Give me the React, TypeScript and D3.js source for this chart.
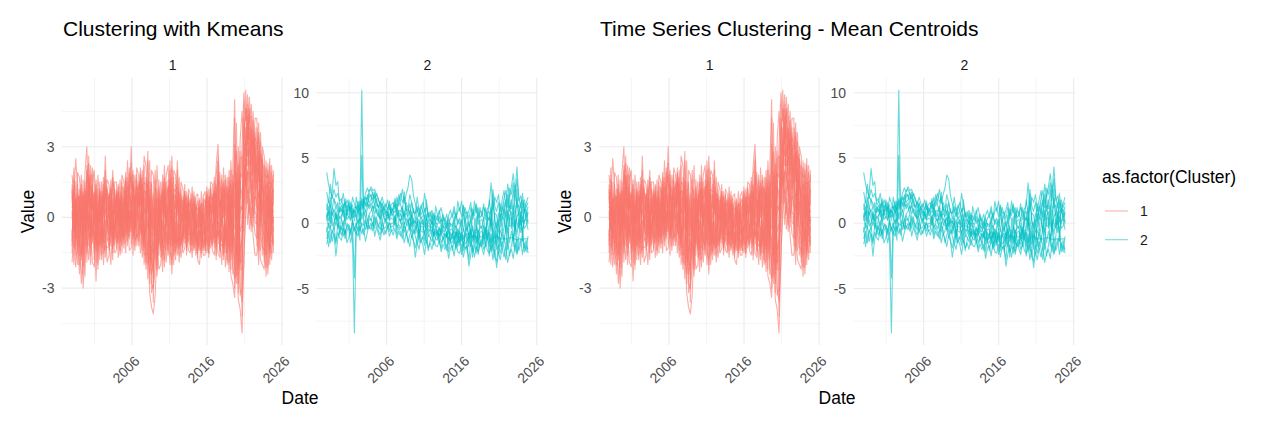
import React from "react";
import * as d3 from "d3";

// ---------------- DATA ----------------
// Dates: quarterly observations between these two dates (fractional years)
const dateStart = 1998.0;
const dateEnd = 2024.85;

// Cluster 1 series (quarterly values)
const c1A = [
  1.8, 0.9, 2.5, 1.2, 0.3, 1.8, -0.5, 1.9, 3.0, 0.6, 2.2, 0.4, 0.5, 1.6, -0.4, 1.5,
  -0.2, 1.7, 0.5, 1.6, 1.4, 0.2, 2.0, 0.6, -0.3, 1.4, 0.2, 1.8, 1.5, 0.4, 2.4, 0.7,
  3.0, 0.5, 1.8, 0.9, 0.6, 2.1, 0.3, 2.6, 2.2, 0.4, 2.4, -0.8, 0.6, 2.0, -0.4, 1.6,
  -0.3, 1.8, 0.4, 1.8, 2.2, 0.3, 2.6, 0.6, 0.4, 2.4, 0.2, 1.5, 1.2, -0.2, 1.1, 0.1,
  -0.3, 1.3, 0.0, 0.9, 1.0, -0.4, 1.1, -0.3, -0.2, 1.3, 0.0, 1.5, 1.4, -0.1, 2.2, 3.1,
  1.0, 1.6, 0.3, 1.8, 0.2, 2.0, -0.5, 2.0, 5.0, 0.6, 3.0, 0.8, 3.0, 5.3, 4.1, 5.2,
  4.0, 4.8, 2.5, 4.2, 4.2, 2.1, 3.6, 1.2, 0.8, 2.4, 0.1, 2.5, -0.2, 2.0,
];
const c1B = [
  -1.9, -0.8, -2.1, -1.0, -2.4, -1.1, -3.0, -1.5, -0.7, -1.8, -0.4, -1.9, -2.1, -0.6, -2.0, -0.8,
  -1.8, -0.5, -1.7, -0.9, -0.9, -2.0, -0.4, -1.5, -1.4, -0.6, -1.6, -0.4, -0.5, -1.5, 0.1, -1.4,
  -1.3, -0.4, -1.4, -0.2, -1.2, -0.3, -1.7, -0.6, -2.2, -1.0, -3.2, -3.8, -4.1, -3.3, -1.2, -2.2,
  -2.0, -0.8, -2.1, -0.6, -1.6, -0.7, -2.4, -0.5, -1.8, -0.5, -1.9, -0.8, -1.5, -1.3, -0.5, -1.4,
  -1.5, -0.6, -1.4, -0.8, -1.8, -2.0, -0.8, -1.6, -1.6, -0.7, -1.7, -0.4, -1.4, -1.6, -0.6, -1.5,
  -1.7, -0.6, -1.8, -0.5, -2.0, -0.8, -2.5, -2.8, -3.4, -1.2, -3.5, -3.9, -4.9, -1.5, 0.1, 1.2,
  -0.5, 0.4, -0.8, -1.6, -1.6, -0.6, -1.8, -2.0, -2.2, -0.9, -2.4, -0.7, -1.8, -0.4,
];
const c1C = [
  0.6, 2.1, -0.3, 1.9, 1.7, 0.4, 0.9, -0.6, 1.5, 2.3, 0.3, 1.6, 2.0, 0.3, 1.2, -0.2,
  1.5, 0.2, 2.6, 0.3, 0.3, 1.6, -1.0, 1.5, 1.5, 0.1, 1.1, -0.8, 0.2, 1.9, -0.6, 2.1,
  1.2, 2.0, 0.3, 2.1, 1.8, 0.5, 2.0, 0.2, 0.5, 2.8, -0.6, 2.0, 1.8, -0.2, 2.2, 0.1,
  1.5, 0.1, 2.2, -0.2, 0.4, 2.4, -0.3, 2.0, 1.8, 0.1, 1.7, -0.1, 0.3, 1.4, -1.6, 1.2,
  1.0, -0.1, 1.1, -0.4, -0.2, 0.8, -1.7, 0.9, 1.1, -0.2, 1.2, 0.3, 0.2, 1.7, -1.8, 0.8,
  1.9, -0.2, 2.1, 0.1, 1.7, 0.4, 2.4, 0.3, 2.2, 2.8, -0.4, 3.3, 4.5, 2.8, 5.4, 2.6,
  5.1, 2.9, 4.5, 1.5, 2.4, 4.0, 0.9, 3.0, 2.6, 0.3, 2.3, 0.6, 2.2, 0.5,
];
const c1D = [
  -0.5, -2.0, 0.8, -0.4, -1.0, -2.8, -1.4, 0.8, -1.9, 0.2, -2.0, -0.3, -0.9, -2.7, 0.4, -1.8,
  0.4, -2.0, -0.6, -1.9, -1.6, -0.3, 0.8, -0.6, 0.2, -1.7, -0.3, 0.9, -1.3, 0.0, 1.3, -0.2,
  0.3, -1.6, 0.9, -1.2, -0.3, -1.5, 0.7, -2.0, -1.0, -2.6, 0.9, -1.7, -2.3, -1.0, -2.5, -0.9,
  -0.9, -2.3, -0.5, -1.9, -0.8, -2.0, 1.1, -2.0, -0.6, -1.6, -0.7, -1.7, -0.8, -0.6, 0.6, -0.7,
  -0.7, -1.7, -0.5, -1.6, -1.1, -0.9, 0.3, -1.1, -0.9, -1.5, -0.8, -1.3, -0.9, -0.5, 0.9, -0.8,
  -0.6, -2.0, -0.4, -2.1, -1.0, -2.3, 0.6, -1.4, -1.8, -2.8, 1.6, -2.2, -2.2, 0.6, 1.9, -0.3,
  0.8, -0.6, 1.1, 0.2, 0.1, -2.0, 1.7, -0.5, -0.8, -2.5, -0.5, -2.0, 0.3, -1.5,
];
const c1E = [
  1.1, 0.2, -1.2, 0.7, 0.9, -0.3, 1.6, -2.5, 0.8, -0.9, 1.4, 2.1, 1.3, -0.2, 1.8, 0.6,
  -1.0, 0.9, 1.3, 0.8, 0.9, -1.2, 1.2, -1.1, 0.9, 0.6, 1.6, -1.5, 0.8, -0.8, 0.5, 1.4,
  1.8, 0.8, -0.7, 1.3, 1.2, 1.3, -0.8, 1.5, 1.4, 0.9, -1.8, 0.6, -0.8, 0.9, 0.5, -1.6,
  0.7, 0.9, 1.1, 0.8, 1.3, 1.0, -1.2, 1.2, 1.1, 1.3, 0.9, 0.6, 0.7, 0.5, -0.3, 0.6,
  0.5, 0.8, -0.9, 0.4, 0.4, 0.2, -0.5, 0.2, 0.5, 0.7, 0.4, 0.9, 0.7, 0.6, -0.3, 1.6,
  0.4, 0.8, 1.2, 0.9, 0.9, 1.1, -1.2, 1.2, 1.5, 1.1, -2.1, 1.9, 1.7, 4.2, 3.0, 4.0,
  3.3, 3.8, 3.0, 3.4, 3.1, 1.5, 2.6, 2.2, 1.6, 1.2, 1.4, 1.5, 1.3, 1.1,
];
const c1F = [
  -1.2, 1.3, 0.4, -2.0, -0.4, 1.2, -0.8, 0.2, 2.0, 1.1, -0.8, 0.9, -0.3, 1.0, -1.1, 1.1,
  0.8, -1.1, -0.1, -0.4, -0.4, 0.7, -1.8, 0.9, -0.8, -1.1, 0.5, 0.3, -0.2, 1.2, -1.2, 0.3,
  -0.6, 1.4, 1.2, 0.0, 0.0, -0.7, 1.4, -0.9, -0.4, -0.3, 1.5, -2.8, -3.0, -2.1, -0.8, 0.7,
  0.2, -1.2, -1.3, 0.3, -0.2, -1.1, 0.5, -0.9, -1.1, -0.9, -1.3, 0.2, -1.1, 0.9, -1.0, -1.0,
  -1.2, -0.3, 0.6, -1.1, -0.6, -1.4, -1.2, -0.6, -0.4, -1.0, -1.2, -0.9, -0.3, -1.1, 1.4, -1.1,
  -1.1, -1.2, -1.0, -1.0, -0.4, -1.4, 1.4, -2.1, -2.6, -0.5, 2.3, -3.0, -3.6, -2.0, 0.8, 1.9,
  1.9, 1.0, 0.3, -0.7, -0.9, 0.6, -0.7, -1.3, -1.3, -1.6, -1.4, -1.1, -1.0, -0.8,
];
const c1G = [
  0.2, -0.6, 1.5, -0.9, 1.2, -1.6, 0.3, 1.1, -0.3, 1.7, 0.7, -1.1, 0.9, -1.4, 0.6, -1.2,
  -0.6, 0.4, 0.9, 1.2, 0.5, -0.8, 0.3, 0.1, 0.6, 1.0, -1.0, 1.3, 1.1, -0.3, 1.7, -0.9,
  0.7, -0.9, 0.1, 0.6, 0.9, 0.8, -0.2, 0.8, 0.8, 1.6, -0.2, 0.9, 0.3, -0.6, 1.2, -0.4,
  1.0, 0.5, 0.0, 1.2, 0.9, 1.6, -0.6, 0.2, 0.6, 0.7, 0.4, 1.0, 0.0, -0.9, 0.8, -0.2,
  0.2, 0.4, -0.2, 0.2, 0.7, -0.1, 0.6, 0.5, 0.8, 0.3, 0.7, 0.1, 0.9, 0.3, 0.2, 0.3,
  0.7, 0.3, 0.6, 1.3, 1.2, 0.0, 0.2, 0.7, 0.4, 1.9, -1.0, 0.2, 0.5, 3.4, 4.6, 3.1,
  4.4, 2.2, 3.7, 2.6, 1.9, 2.8, 0.3, 1.7, 0.4, 0.8, 0.9, 0.2, 0.7, 0.2,
];
const c1H = [
  -0.8, 0.5, -0.7, 0.3, -1.6, 0.8, -2.1, -0.9, 0.4, -0.4, -1.3, 1.3, -1.5, 0.7, -0.7, 0.2,
  1.1, -1.5, -1.2, -1.3, -1.2, 1.0, -0.7, -0.3, -1.1, -0.2, 0.8, -0.6, -0.9, 0.7, -0.4, 1.0,
  -0.2, 0.2, -1.0, -0.7, -0.8, 0.1, -1.2, -0.3, -1.6, -1.5, -2.4, -1.2, -1.5, 0.4, -1.7, 1.1,
  -1.4, -0.4, 0.8, -1.1, -1.2, -0.2, 1.7, -1.4, -0.2, -1.2, -0.3, -1.2, -0.4, 0.2, -0.7, 0.9,
  -0.5, -1.1, -1.0, -0.2, -1.4, -0.6, -0.2, -1.3, -1.2, -0.4, -0.3, -0.7, -1.1, -0.7, -1.2, -0.2,
  -0.3, -0.8, -1.3, -0.3, -1.5, 0.6, -1.8, -0.6, -0.9, -1.9, 0.6, -1.4, -1.0, 1.4, 2.4, 0.6,
  1.2, 1.6, 0.0, 0.9, 0.7, -0.9, 2.0, 0.4, -0.3, -0.2, -1.0, 1.0, -0.6, -1.1,
];
const c1I = [
  1.4, -1.3, 0.1, 1.0, 0.1, -0.7, 1.1, 0.5, -1.2, 0.9, 1.8, -0.6, 0.2, -0.9, 0.0, 0.9,
  0.0, 1.2, 0.2, 0.1, 0.0, -0.5, 1.5, 1.1, 0.0, 0.8, -0.5, 0.6, 0.5, -1.1, 0.9, -0.5,
  0.9, 1.1, 0.6, 1.6, 0.4, 1.6, 0.9, 1.1, 1.1, 0.2, 0.7, -0.3, 1.0, -1.4, 0.0, -1.1,
  0.4, 1.2, -0.8, 0.5, 0.1, 0.7, 0.0, 0.9, 0.9, 0.3, 1.1, -0.5, 0.9, -0.4, 0.3, -0.5,
  0.7, 0.1, 0.3, -1.3, 0.1, 0.5, -1.0, -0.1, 0.2, 0.9, -0.6, 0.6, 0.4, 1.1, 0.6, 2.0,
  0.1, 1.1, 0.0, 0.5, 0.5, -0.5, 0.9, -1.0, 3.1, 0.2, -2.8, 2.5, 2.6, 0.0, 3.6, 4.6,
  2.7, 3.3, 2.0, 2.9, 2.9, 3.4, -0.2, 2.5, 1.9, 1.7, 1.8, -0.4, 1.5, 1.6,
];
const c1J = [
  -0.1, 0.7, -1.6, -1.4, 0.6, 0.0, -0.2, -1.2, 1.1, -1.2, 0.0, 0.5, 1.0, 0.4, -1.5, -0.5,
  -1.3, -0.3, 1.6, -0.7, 1.0, 0.4, -0.2, -0.9, 1.1, -0.9, 0.0, -0.1, 0.0, 0.9, 0.2, 0.6,
  0.0, -0.3, -0.4, 0.4, 1.4, -0.4, 0.2, -1.3, -0.2, 1.2, -1.1, 1.4, -0.5, 1.3, 0.9, 0.3,
  -0.6, -1.6, 1.5, -0.4, 1.6, -1.5, -1.8, -0.1, -1.4, 1.6, -1.0, 0.8, -0.2, 1.0, -1.2, 0.3,
  -0.9, -0.8, -0.7, 0.6, -0.4, -1.2, 0.0, 0.0, -0.7, -1.2, 0.5, -0.2, -0.5, -0.2, -0.8, -0.6,
  -1.4, -0.1, 1.5, -1.5, -0.1, 1.3, -0.3, 1.5, 0.9, -0.2, 1.1, -0.6, -0.3, 2.2, 1.3, 2.0,
  0.2, 0.7, 1.6, -0.2, -0.3, 1.0, 1.2, -0.8, -1.7, 0.5, -0.1, -1.5, 0.0, -0.3,
];
const c1K = [
  1.2, -0.9, 0.8, -1.3, 0.9, -1.5, 1.0, -0.6, 1.6, -0.5, 1.3, -0.8, 1.1, -1.2, 0.7, -0.9,
  0.9, -1.3, 1.1, -0.6, 1.0, -1.1, 0.6, -1.2, 1.2, -0.8, 0.9, -1.0, 1.3, -0.7, 1.5, -0.6,
  1.6, -0.5, 1.2, -0.9, 1.5, -0.6, 1.4, -0.8, 1.1, -1.4, 0.6, -2.0, 0.4, -1.8, 0.6, -1.2,
  0.9, -1.1, 1.0, -1.0, 1.3, -0.9, 1.2, -1.1, 1.0, -1.0, 0.8, -1.2, 0.7, -1.1, 0.6, -1.0,
  0.5, -1.2, 0.6, -1.1, 0.4, -1.3, 0.5, -1.2, 0.7, -1.0, 0.8, -0.9, 1.0, -0.8, 1.3, -0.9,
  1.2, -1.0, 1.1, -1.2, 1.1, -1.2, 1.3, -1.4, 2.0, -1.6, 1.8, -2.0, -0.8, 3.2, 1.4, 4.3,
  1.5, 3.6, 1.2, 3.1, 0.4, 2.7, 0.2, 2.4, -1.1, 1.4, -1.2, 1.3, -0.8, 1.2,
];
const c1L = [
  -1.0, 1.1, -1.4, 0.9, -1.2, 0.7, -1.6, 1.2, -0.6, 1.8, -0.9, 1.4, -1.3, 0.8, -1.0, 1.0,
  -1.1, 0.9, -0.8, 1.1, -1.2, 0.9, -1.3, 0.8, -0.9, 1.0, -1.1, 1.1, -0.8, 1.2, -0.7, 1.4,
  -0.6, 1.5, -0.8, 1.3, -0.5, 1.6, -0.9, 1.2, -1.3, 1.3, -1.9, 0.4, -2.6, 0.7, -1.6, 0.5,
  -1.3, 1.1, -1.0, 0.9, -0.8, 1.4, -1.2, 1.0, -1.1, 1.1, -1.3, 0.7, -1.0, 0.8, -1.2, 0.7,
  -1.1, 0.6, -1.3, 0.5, -1.4, 0.3, -1.1, 0.4, -1.2, 0.6, -1.0, 0.9, -0.9, 1.1, -1.0, 1.5,
  -1.1, 1.0, -1.3, 1.2, -1.3, 1.2, -1.5, 1.0, -2.2, 1.6, -2.4, 1.3, 1.0, -0.6, 3.8, 1.0,
  3.8, 1.1, 3.3, 0.8, 2.6, 0.3, 2.8, 0.1, 1.3, -1.0, 1.5, -1.4, 1.1, -0.6,
];
const c1M = [
  0.4, 1.0, -0.6, -1.1, 0.5, 1.1, -1.3, -0.9, 0.9, 1.4, -0.3, -1.0, 0.6, 1.2, -1.4, -0.7,
  0.3, 1.0, -1.1, -0.5, 0.8, 1.2, -0.9, -0.4, 0.5, 1.1, -0.7, -1.2, 0.7, 1.6, -0.4, -0.8,
  1.0, 1.4, -0.5, -0.3, 0.9, 1.8, -0.4, -1.1, 0.6, 1.5, -1.2, -2.4, -1.9, -0.5, 0.8, 0.2,
  -0.8, 0.7, 1.2, -1.4, -0.5, 1.1, 1.5, -0.7, -0.9, 0.8, 1.0, -1.0, -0.6, 0.6, 0.9, -0.9,
  -1.0, 0.3, 0.7, -0.8, -1.1, 0.2, 0.6, -1.4, -0.8, 0.4, 0.9, -1.1, -0.7, 0.8, 1.1, -0.5,
  -0.9, 0.9, 1.4, -0.8, -1.0, 1.0, 1.6, -1.3, 0.7, -1.4, 2.2, -1.9, -1.8, 2.6, 3.2, 2.2,
  2.9, 1.8, 2.4, 3.6, 1.2, 2.3, -0.4, 1.8, 0.6, -1.4, 1.0, -0.9, 0.8, -0.2,
];
const c1N = [
  0.3, -0.5, 0.6, -0.2, -0.4, 0.4, -0.8, 0.3, 0.6, -0.1, 0.8, 0.0, -0.3, 0.5, -0.6, 0.3,
  0.2, -0.6, 0.4, -0.3, 0.5, -0.4, 0.3, -0.5, -0.2, 0.4, -0.4, 0.5, 0.6, -0.2, 0.7, -0.1,
  0.8, 0.0, 0.5, -0.2, 0.7, -0.1, 0.9, 0.2, 0.3, -0.5, -0.1, -1.0, -1.2, -0.3, -0.9, 0.1,
  0.3, -0.5, 0.5, -0.3, 0.6, -0.2, 0.4, -0.4, 0.2, -0.5, 0.5, -0.3, 0.1, -0.6, 0.3, -0.4,
  -0.2, -0.7, 0.1, -0.6, -0.3, -0.8, 0.2, -0.7, -0.1, -0.6, 0.3, -0.4, 0.4, -0.3, 0.6, 0.0,
  0.3, -0.4, 0.5, -0.5, 0.4, -0.5, 0.6, -0.6, -0.4, 0.8, -0.9, 0.5, 0.3, 1.8, 2.2, 2.9,
  2.2, 2.6, 1.8, 2.3, 1.4, 0.8, 1.6, 0.6, 0.3, -0.5, 0.6, 0.0, 0.4, -0.2,
];
const c1O = [
  -1.5, 1.6, -0.2, 1.4, -2.0, 1.4, -2.4, 1.5, -1.5, 2.6, -1.6, 1.8, -1.8, 1.4, -2.2, 1.2,
  -1.6, 1.4, -1.4, 1.3, -1.4, 1.3, -1.5, 1.2, -1.3, 1.3, -1.4, 1.5, -1.1, 1.7, -1.0, 1.9,
  -1.1, 1.8, -1.2, 1.8, -1.0, 1.9, -1.4, 2.2, -1.9, 2.4, -2.8, 1.5, -3.6, 1.6, -2.2, 1.3,
  -1.7, 1.5, -1.8, 1.5, -1.4, 2.0, -2.0, 1.7, -1.5, 2.0, -1.6, 1.2, -1.3, 1.1, -1.4, 1.0,
  -1.4, 1.0, -1.2, 0.8, -1.7, 0.7, -1.5, 0.8, -1.4, 1.1, -1.5, 1.2, -1.2, 1.5, -1.6, 2.6,
  -1.5, 1.8, -1.6, 1.6, -1.8, 1.7, -2.2, 1.8, -3.0, 4.0, -3.2, 2.8, -4.2, 4.8, 0.6, 4.8,
  0.1, 4.3, -0.4, 3.8, -1.2, 3.6, -1.4, 2.7, -1.9, 2.1, -2.1, 2.2, -1.5, 1.8,
];
const c1P = [
  0.9, 0.1, -0.9, 0.5, -0.7, -1.8, 0.5, -0.4, 2.2, 0.4, -0.6, 1.1, 0.8, -1.9, 0.9, -0.3,
  -0.8, 0.6, 2.0, -1.0, -0.5, 0.6, 1.7, 0.2, 1.0, -0.4, 0.6, -0.5, -0.6, 0.8, -0.1, 1.1,
  2.3, -0.8, 0.4, 1.0, -0.2, 1.0, 1.7, -1.6, 1.7, -2.0, 1.2, -3.2, -2.8, 0.0, -2.0, 0.8,
  0.6, -1.8, 1.7, 0.0, -1.1, 0.6, 2.1, -1.6, 1.4, -1.3, 0.2, -0.6, -0.9, 1.1, -1.3, 0.4,
  0.8, -1.4, 0.9, -0.1, -1.5, 0.4, -1.4, 0.6, -1.4, 1.0, -1.5, 1.3, 0.6, -1.3, 1.8, 2.4,
  -1.4, 1.3, -1.5, 0.7, 1.3, -1.9, 2.0, -2.4, 4.2, -2.5, 0.3, -3.3, -3.0, 1.0, 2.8, 3.6,
  4.6, -0.3, 4.1, 0.5, 3.8, -1.4, 3.2, -1.6, 2.2, -2.1, 2.0, -1.7, 1.9, -1.2,
];

// Cluster 2 series (quarterly values)
const c2S1 = [
  3.9, 3.0, 2.4, 2.0, 1.8, 1.5, 1.2, 0.8, 1.1, 0.5, 0.9, 1.4, 1.0, 1.6, 0.7, 1.2,
  1.3, 0.8, 1.5, 1.1, 1.7, 2.3, 2.7, 2.4, 2.8, 2.5, 2.6, 2.1, 1.8, 1.4, 2.0, 1.5,
  1.2, 1.8, 1.0, 1.4, 1.6, 1.1, 2.0, 1.3, 1.8, 2.6, 1.5, 2.2, 2.7, 3.7, 3.4, 2.1,
  1.5, 0.9, 1.2, 0.6, 1.0, 2.3, 1.4, 0.7, 0.5, 1.0, 0.2, 0.6, 0.2, 0.8, 1.2, 0.4,
  0.3, -0.2, 0.6, 1.0, 0.4, 1.0, 0.2, 1.7, 0.9, 1.7, 0.6, 1.2, 0.5, 1.0, 1.6, 0.3,
  1.7, 0.8, 1.2, 0.4, 0.7, 1.5, 0.3, 1.1, 1.4, 3.1, 1.0, 2.0, 1.6, 2.2, 0.9, 1.8,
  2.5, 1.3, 3.0, 2.0, 2.8, 3.8, 2.4, 4.3, 2.0, 1.2, 2.3, 0.8, 1.5, 2.0,
];
const c2S2 = [
  1.0, 1.8, 1.2, 2.4, 4.2, 2.9, 3.2, 1.4, 1.6, 2.3, 1.2, 1.8, 1.3, 0.9, 2.0, 1.5,
  1.1, 1.7, 0.9, 10.2, 1.0, 1.6, 1.3, 2.0, 2.2, 1.8, 2.4, 1.6, 1.2, 1.7, 0.9, 1.3,
  0.8, 1.1, 1.5, 0.6, 0.7, 1.5, 0.9, 2.2, 1.4, 0.9, 2.4, 1.0, 0.8, 1.5, 0.4, 1.1,
  0.3, 1.0, 0.5, 1.4, 0.9, 0.3, 1.8, 0.5, 0.1, 0.7, -0.2, 1.3, 0.6, 0.0, 0.3, -0.2,
  -0.4, 0.2, -0.6, 0.0, -0.2, 0.5, -0.5, 0.3, 0.0, -0.5, 0.7, -0.3, -0.6, 0.2, -0.9, 0.8,
  0.3, -0.5, 0.9, -0.2, -0.4, 0.4, -0.7, 0.1, 0.5, -0.6, 1.6, 0.2, -0.4, 0.8, 0.1, 1.3,
  0.7, 1.8, 0.2, 1.4, 1.1, 2.6, 0.8, 1.9, 0.6, 1.6, 0.1, 1.1, 0.4, 0.9,
];
const c2S3 = [
  -0.3, -1.8, -1.0, -0.5, -0.9, -2.5, -1.2, -0.6, -0.2, -1.0, -0.5, -1.5, -1.1, -0.4, -1.3, -8.4,
  -0.6, -1.0, -0.2, -0.8, -0.4, -1.4, -0.7, -0.2, -0.5, 0.1, -1.0, -0.3, -0.8, -1.3, -0.4, -0.9,
  -0.6, -0.2, -1.0, -0.5, -0.9, -0.4, -1.2, -0.6, -1.0, -0.5, -1.5, -0.8, -1.2, -1.8, -0.9, -1.4,
  -2.6, -1.5, -2.0, -1.2, -1.6, -2.4, -1.3, -1.9, -1.5, -2.0, -1.2, -1.7, -1.8, -1.3, -2.2, -1.6,
  -2.0, -1.6, -2.7, -1.9, -1.7, -2.5, -1.4, -2.2, -2.3, -1.6, -2.6, -1.8, -1.9, -3.3, -2.4, -1.7,
  -2.6, -1.8, -2.2, -1.5, -1.9, -2.4, -1.4, -2.1, -2.3, -1.6, -2.8, -2.0, -3.4, -2.2, -2.8, -1.9,
  -2.6, -1.8, -3.0, -2.3, -2.0, -2.7, -1.5, -2.3, -1.8, -1.2, -2.4, -1.5, -2.2, -1.0,
];
const c2S4 = [
  0.5, 0.9, 0.0, 1.2, 0.8, 0.3, 1.1, 0.4, 0.6, 1.0, 0.2, 0.8, 0.4, 0.9, 0.1, -4.2,
  0.2, 0.7, 1.2, 0.5, 0.9, 0.4, 1.1, 1.5, 1.2, 0.8, 1.5, 0.9, 0.6, 0.3, 1.0, 0.4,
  0.2, 0.7, 0.3, 0.9, 0.5, 0.1, 0.8, 0.3, 0.2, 0.7, -0.1, 0.4, 0.0, 0.5, -0.3, 0.2,
  -0.4, 0.1, -0.7, -0.2, -0.3, -0.8, 0.0, -0.5, -0.6, -0.2, -0.9, -0.4, -0.7, -1.0, -0.4, -0.8,
  -1.0, -0.7, -1.2, -0.9, -0.8, -1.2, -0.6, -1.0, -1.1, -0.7, -1.3, -0.9, -0.8, -1.3, -0.5, -1.1,
  -0.9, -1.2, -0.6, -1.0, -1.1, -0.7, -1.3, -0.8, -0.7, -1.5, -0.4, -1.2, -1.0, -1.1, -1.2, -1.2,
  -1.2, -1.2, -1.2, -1.1, -1.1, -1.2, -1.2, -1.3, -1.2, -1.2, -1.3, -1.2, -1.2, -1.2,
];
const c2S5 = [
  -1.2, -0.6, -1.5, -0.8, -0.3, -1.4, -0.7, -1.1, -1.3, -0.4, -0.9, 0.0, -0.5, -1.5, -0.8, -0.3,
  -0.9, -0.3, -1.3, 5.2, 0.1, -0.5, 0.3, -0.4, 0.0, -0.6, 0.4, -0.2, -0.3, 0.2, -0.7, 0.0,
  0.4, -0.4, 0.0, -0.3, -0.2, 0.5, -0.5, 0.2, 0.3, -0.6, 0.1, -0.9, -0.6, 0.0, -1.1, -0.5,
  -1.0, -1.6, -0.5, -1.1, -1.2, -0.6, -1.5, -0.9, -1.1, -1.4, -0.7, -1.2, -1.3, -0.8, -1.5, -1.1,
  -1.4, -2.1, -1.0, -1.5, -1.5, -1.0, -2.0, -1.3, -0.6, -1.4, -0.9, -1.6, -1.4, -0.7, -1.8, -0.9,
  -1.3, -0.4, -1.6, -0.7, -0.6, -1.2, -0.3, -1.0, -1.8, -0.8, -2.1, -0.6, -1.6, -2.4, -1.1, -2.0,
  -0.9, -2.0, -0.4, -1.5, -0.6, -1.4, 0.2, -0.9, 0.3, -0.7, 0.5, -0.4, -0.2, 0.3,
];
const c2S6 = [
  0.8, 0.2, 1.4, 0.6, 1.1, 0.6, 0.2, 1.3, 0.9, 1.5, 0.7, 0.3, 0.5, 0.2, 1.1, 0.8,
  1.0, 1.4, 0.6, 1.9, 1.5, 2.0, 1.8, 2.5, 2.6, 2.2, 1.9, 2.3, 1.9, 1.2, 1.5, 1.0,
  1.1, 0.6, 1.3, 0.8, 1.2, 1.7, 0.6, 1.0, 0.9, 1.3, 0.5, 1.6, 1.2, 0.6, 1.6, 0.9,
  0.7, 2.0, 1.0, 0.4, 0.5, 1.1, 0.2, 0.8, 0.3, -0.1, 0.6, 0.0, -0.1, 0.5, -0.3, 0.3,
  0.1, -0.4, 0.4, -0.2, -0.3, 0.2, 0.8, -0.1, 0.4, -0.2, 1.3, 0.1, 0.6, -0.3, 0.2, 1.1,
  0.6, 1.3, -0.1, 0.9, 0.9, 0.2, 1.2, 0.5, 0.2, 1.2, -0.5, 0.8, 0.6, -0.2, 1.5, 0.3,
  1.6, 0.5, 2.2, 0.9, 1.8, 0.7, 2.9, 1.2, 1.4, 0.4, 1.8, 0.9, 1.1, 0.0,
];
const c2S7 = [
  0.2, 1.3, 0.5, -0.2, 0.0, 0.9, -0.4, 0.5, 0.3, -0.3, 0.6, 1.0, 0.9, 1.3, 0.4, 0.6,
  0.5, 0.0, 0.8, 0.3, 0.6, 1.0, 0.2, 0.7, 0.9, 1.4, 0.7, 1.1, 0.8, 0.4, 0.6, 1.1,
  0.5, 0.9, 0.2, 0.4, 0.3, -0.1, 0.4, 0.9, 0.6, 0.2, 0.9, 0.0, -0.2, 0.4, 0.1, -0.8,
  -0.5, -0.2, 0.3, -0.6, -0.7, 0.2, -0.4, -1.0, -0.8, -0.5, -1.0, -0.6, -0.9, -0.4, -0.7, -1.2,
  -0.8, -1.1, -0.5, -1.3, -1.0, -0.6, -1.1, -0.4, -0.8, -1.2, -0.4, -1.0, -1.1, -1.8, -0.8, -1.4,
  -0.5, -1.5, -0.9, -1.8, -1.5, -0.9, -1.8, -0.5, -1.2, -2.2, -1.0, -1.6, -0.8, -1.3, -0.5, -1.1,
  -0.3, 0.9, -0.7, 0.4, 0.4, -0.3, 1.0, 0.0, -0.4, 0.6, -0.8, 0.2, 0.3, -0.5,
];
const c2S8 = [
  -0.7, 0.0, -0.4, 0.9, 0.4, -0.2, 0.7, -0.3, -0.5, 0.2, -0.8, -0.2, -0.1, -0.7, 0.3, -0.6,
  -0.4, 0.3, -0.6, 0.0, -0.2, 0.4, -0.5, 0.3, 0.3, -0.2, 0.6, 0.1, -0.1, -0.5, 0.2, -0.4,
  -0.3, 0.1, -0.6, 0.0, 0.0, 0.6, -0.3, -0.1, -0.4, 0.1, -0.7, -0.2, 0.3, -0.5, 0.6, 0.0,
  0.2, -0.8, -0.3, 0.5, 0.1, -0.3, 0.4, -0.2, -0.3, 0.2, -0.5, -0.9, -0.5, -1.5, -0.2, -0.6,
  -0.6, -0.2, -0.9, -0.5, -0.4, -1.6, -0.8, -0.7, -1.5, -0.9, -1.8, -0.5, -0.3, -0.9, -1.2, -0.2,
  -1.1, -0.2, -0.7, -0.4, -0.2, -1.6, -0.5, -1.3, -0.3, 0.4, -1.4, -0.2, 0.1, -0.7, -0.3, 0.5,
  0.3, -0.6, 1.0, -0.2, -0.2, 0.8, -0.6, 0.5, 0.8, -0.1, 1.2, 0.0, 0.6, 1.3,
];
const c2S9 = [
  1.5, 0.6, 2.0, 1.1, 1.9, 1.0, 1.6, 0.9, 1.4, 0.8, 1.9, 0.6, 1.8, 1.1, 1.4, 0.2,
  2.0, 1.2, 1.7, 1.4, 1.2, 0.9, 1.6, 1.1, 1.6, 1.1, 1.3, 0.8, 0.5, 1.0, 0.1, 0.7,
  0.9, 0.3, 0.7, 1.2, 1.0, 0.8, 1.4, 0.5, 0.7, 1.1, 0.3, 0.8, 0.5, 1.0, -0.2, 0.4,
  0.0, 0.6, -1.2, 0.1, -0.1, 0.6, -0.9, 0.3, -0.2, -0.9, 0.1, -0.3, -0.2, -0.6, -1.0, 0.0,
  -1.2, -0.8, -1.6, -0.7, -1.2, -0.3, -0.2, -1.5, -0.3, 0.3, -0.6, 0.6, -2.2, -1.0, -0.4, -2.6,
  -0.1, 0.5, -1.9, 0.2, 0.3, -0.3, -0.9, 0.8, 0.9, -0.2, 2.2, 0.4, -2.0, 0.3, -1.8, -0.4,
  -1.5, -0.2, -2.0, 0.6, 0.9, -1.8, 0.3, -2.4, -1.0, 0.2, -0.5, -1.9, -1.3, -2.3,
];
const c2S10 = [
  0.6, -0.4, 1.0, 0.3, -0.5, 0.7, 0.2, -0.9, 0.4, 1.2, -0.2, 0.9, 1.5, 0.3, 0.8, 1.0,
  0.4, 1.1, 0.0, 0.8, 1.9, 1.3, 2.2, 1.6, 1.8, 2.4, 1.4, 1.9, 1.0, 0.2, 1.3, 0.6,
  0.0, 0.9, 0.4, 1.1, 0.8, 0.3, 1.2, 0.6, 0.0, 0.9, 0.5, 1.3, 0.4, -0.6, 0.9, -0.2,
  -0.8, 0.4, -1.5, 0.0, 0.3, -1.3, 0.7, -0.8, -0.4, 0.4, -1.1, 0.2, -1.2, -0.3, -0.8, 0.5,
  -0.2, -1.0, 0.0, -1.4, -0.9, 0.2, -1.9, -0.5, -1.7, -0.4, -2.1, -0.8, 0.1, -1.5, 0.6, -0.6,
  -1.4, -2.3, -0.5, -1.2, -1.8, -0.2, -1.1, 0.4, -1.5, 0.9, -0.8, -2.4, -0.1, -1.9, 0.7, -0.5,
  1.1, -0.8, 0.6, 2.2, -0.4, 1.4, -1.0, 2.6, -0.3, 0.9, -1.4, 1.5, 0.2, 0.8,
];
const c2S11 = [
  -1.6, -1.0, -0.2, -1.4, -0.8, -1.6, 0.0, -0.4, -0.9, -0.3, -1.2, -0.6, -0.2, -0.9, 0.2, -0.5,
  0.0, -0.6, 0.5, -0.2, -0.9, 0.2, -0.4, 0.6, 0.2, 0.8, -0.4, 0.5, -0.6, -0.9, 0.0, -0.5,
  -0.8, -0.3, 0.1, -0.6, -0.5, 0.2, -0.9, -0.3, -0.7, -1.2, -0.2, -0.5, -1.5, -0.9, -0.4, -1.3,
  -1.9, -1.1, -0.6, -1.5, -1.0, -1.7, -0.8, -2.1, -1.3, -0.8, -1.7, -1.1, -0.7, -1.4, -1.9, -1.0,
  -1.7, -0.6, -2.2, -1.2, -2.1, -1.3, -0.7, -1.8, -1.0, -2.4, -1.4, -2.0, -1.7, -2.8, -1.3, -2.2,
  -1.9, -1.0, -2.4, -1.6, -1.2, -2.0, -1.7, -0.9, -2.5, -1.2, -1.9, -2.6, -2.9, -1.7, -2.3, -1.4,
  -1.9, -2.8, -1.3, -2.5, -1.7, -0.8, -2.2, -1.0, -2.1, -1.6, -0.9, -2.2, -1.7, -2.0,
];
const c2S12 = [
  2.4, 1.6, 3.0, 1.9, 2.6, 2.0, 2.3, 1.7, 1.9, 1.2, 1.6, 0.8, 0.7, 1.2, 0.4, 1.0,
  0.6, 1.3, 1.0, 1.7, 1.3, 2.0, 1.5, 2.3, 2.0, 1.5, 2.2, 1.3, 1.4, 0.9, 1.6, 1.1,
  1.5, 1.0, 1.7, 0.8, 1.1, 1.9, 1.3, 1.7, 2.3, 1.6, 2.0, 1.1, 1.0, 2.2, 1.6, 0.8,
  0.8, 1.3, 0.5, 1.1, 1.6, 0.9, 1.2, 0.5, 0.9, 0.3, 0.8, 0.2, 0.5, 1.0, 0.1, 0.7,
  0.2, 0.7, -0.2, 0.4, 0.6, 1.3, 0.4, 0.9, 1.2, 0.5, 1.4, 0.7, 0.9, 0.3, 1.2, 0.6,
  1.0, 1.5, 0.4, 1.2, 0.5, 1.2, 0.9, 0.2, 1.8, 0.7, 2.6, 1.3, 0.9, 1.6, 0.4, 1.1,
  1.9, 2.5, 1.2, 2.7, 2.2, 3.1, 1.7, 3.4, 1.7, 2.1, 1.2, 1.8, 1.2, 1.6,
];

const cluster1Series = [c1A, c1B, c1C, c1D, c1E, c1F, c1G, c1H, c1I, c1J, c1K, c1L, c1M, c1N, c1O, c1P];
const cluster2Series = [c2S1, c2S2, c2S3, c2S4, c2S5, c2S6, c2S7, c2S8, c2S9, c2S10, c2S11, c2S12];

const clusterNames = ["1", "2"];
const clusterColors = ["#F8766D", "#00BFC4"];
const xTickYears = [2006, 2016, 2026];
const xMinorYears = [2001, 2011, 2021];
const yTicksC1 = [-3, 0, 3];
const yMinorC1 = [-4.5, -1.5, 1.5, 4.5];
const yTicksC2 = [-5, 0, 5, 10];
const yMinorC2 = [-7.5, -2.5, 2.5, 7.5];
const plotTitles = ["Clustering with Kmeans", "Time Series Clustering - Mean Centroids"];
const legendTitle = "as.factor(Cluster)";

// ---------------- LAYOUT ----------------
const W = 1268;
const H = 427;
const FONT = '"Liberation Sans", Arial, Helvetica, sans-serif';
const PANEL_TOP = 78;
const PANEL_BOTTOM = 345;
const PANEL_W = 221.5;
const PANEL_LEFTS = [62, 316.6];
const PLOT_OFFSETS = [0, 537];
const TICK_FS = 14;
const TITLE_FS = 21;
const AXIS_FS = 17.5;

function yearsFor(n: number): number[] {
  return d3.range(n).map((i) => dateStart + (i * (dateEnd - dateStart)) / (n - 1));
}

function expand(ext: [number, number]): [number, number] {
  const r = ext[1] - ext[0];
  return [ext[0] - r * 0.05, ext[1] + r * 0.05];
}

type PanelProps = {
  left: number;
  label: string;
  series: number[][];
  color: string;
  yTicks: number[];
  yMinor: number[];
};

function Panel({ left, label, series, color, yTicks, yMinor }: PanelProps) {
  const n = series[0].length;
  const years = yearsFor(n);
  const x = d3
    .scaleLinear()
    .domain(expand([dateStart, dateEnd]))
    .range([left, left + PANEL_W]);
  const allVals = series.flat();
  const y = d3
    .scaleLinear()
    .domain(expand(d3.extent(allVals) as [number, number]))
    .range([PANEL_BOTTOM, PANEL_TOP]);
  const line = d3
    .line<number>()
    .x((_, i) => x(years[i]))
    .y((v) => y(v));
  const right = left + PANEL_W;
  return (
    <g>
      {yMinor.map((v) => (
        <line key={"ym" + v} x1={left} x2={right} y1={y(v)} y2={y(v)} stroke="#EBEBEB" strokeWidth={0.55} />
      ))}
      {xMinorYears.map((v) => (
        <line key={"xm" + v} x1={x(v)} x2={x(v)} y1={PANEL_TOP} y2={PANEL_BOTTOM} stroke="#EBEBEB" strokeWidth={0.55} />
      ))}
      {yTicks.map((v) => (
        <line key={"y" + v} x1={left} x2={right} y1={y(v)} y2={y(v)} stroke="#EBEBEB" strokeWidth={1.1} />
      ))}
      {xTickYears.map((v) => (
        <line key={"x" + v} x1={x(v)} x2={x(v)} y1={PANEL_TOP} y2={PANEL_BOTTOM} stroke="#EBEBEB" strokeWidth={1.1} />
      ))}
      {series.map((s, i) => (
        <path key={"s" + i} d={line(s) || ""} fill="none" stroke={color} strokeOpacity={0.6} strokeWidth={1.1} strokeLinejoin="round" />
      ))}
      {yTicks.map((v) => (
        <text key={"yl" + v} x={left - 7.5} y={y(v)} dy="0.36em" textAnchor="end" fontSize={TICK_FS} fill="#4D4D4D" fontFamily={FONT}>
          {v}
        </text>
      ))}
      {xTickYears.map((v) => (
        <text
          key={"xl" + v}
          transform={`translate(${x(v) + 8.5},${362}) rotate(-45)`}
          textAnchor="end"
          fontSize={TICK_FS}
          fill="#4D4D4D"
          fontFamily={FONT}
        >
          {v}
        </text>
      ))}
      <text x={(left + right) / 2} y={70} textAnchor="middle" fontSize={TICK_FS} fill="#1A1A1A" fontFamily={FONT}>
        {label}
      </text>
    </g>
  );
}

function Plot({ ox, title }: { ox: number; title: string }) {
  const panels = [
    { series: cluster1Series, yTicks: yTicksC1, yMinor: yMinorC1 },
    { series: cluster2Series, yTicks: yTicksC2, yMinor: yMinorC2 },
  ];
  const xCenter = (PANEL_LEFTS[0] + PANEL_LEFTS[1] + PANEL_W) / 2;
  return (
    <g transform={`translate(${ox},0)`}>
      <text x={63} y={36} fontSize={TITLE_FS} fill="#000" fontFamily={FONT}>
        {title}
      </text>
      {panels.map((p, i) => (
        <Panel
          key={i}
          left={PANEL_LEFTS[i]}
          label={clusterNames[i]}
          series={p.series}
          color={clusterColors[i]}
          yTicks={p.yTicks}
          yMinor={p.yMinor}
        />
      ))}
      <text
        transform={`translate(33.5,${(PANEL_TOP + PANEL_BOTTOM) / 2}) rotate(-90)`}
        textAnchor="middle"
        fontSize={AXIS_FS}
        fill="#000"
        fontFamily={FONT}
      >
        Value
      </text>
      <text x={xCenter} y={404} textAnchor="middle" fontSize={AXIS_FS} fill="#000" fontFamily={FONT}>
        Date
      </text>
    </g>
  );
}

export default function App() {
  return (
    <svg
      width={W}
      height={H}
      viewBox={`0 0 ${W} ${H}`}
      style={{ position: "absolute", left: 0, top: 0, display: "block", background: "#fff" }}
    >
      <rect x={0} y={0} width={W} height={H} fill="#fff" />
      {plotTitles.map((t, i) => (
        <Plot key={i} ox={PLOT_OFFSETS[i]} title={t} />
      ))}
      <g>
        <text x={1102} y={183} fontSize={AXIS_FS} fill="#000" fontFamily={FONT}>
          {legendTitle}
        </text>
        {clusterNames.map((c, i) => (
          <g key={c}>
            <line x1={1105} x2={1128} y1={211 + i * 28.7} y2={211 + i * 28.7} stroke={clusterColors[i]} strokeOpacity={0.55} strokeWidth={1.1} />
            <text x={1140} y={211 + i * 28.7} dy="0.36em" fontSize={TICK_FS} fill="#1A1A1A" fontFamily={FONT}>
              {c}
            </text>
          </g>
        ))}
      </g>
    </svg>
  );
}
